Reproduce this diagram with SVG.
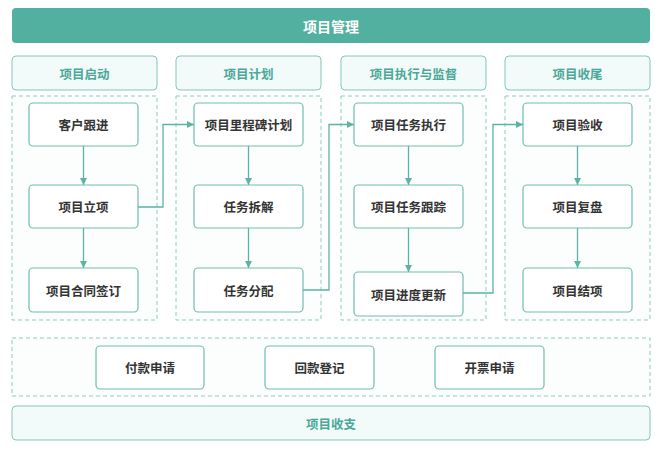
<svg xmlns="http://www.w3.org/2000/svg" width="660" height="453" viewBox="0 0 660 453">
<style>
text{font-family:"Noto Sans CJK SC","Noto Sans",sans-serif;font-weight:bold;text-anchor:middle;dominant-baseline:central}
.node rect{fill:#fff;stroke:#6fbdb0;stroke-width:1.2}
.node text{fill:#333;font-size:12.5px}
.hdr rect{fill:#f2fafa;stroke:#82c7bb;stroke-width:1}
.hdr text{fill:#4ba898;font-size:12.5px}
.box{fill:#fcfefe;stroke:#8ccbc0;stroke-width:1;stroke-dasharray:4 3}
.conn{fill:none;stroke:#5cb3a4;stroke-width:1.3}
</style>
<defs>
<marker id="arr" viewBox="0 0 10 10" refX="10" refY="5" markerWidth="7" markerHeight="7" markerUnits="userSpaceOnUse" orient="auto">
<path d="M0,0L10,5L0,10z" fill="#5cb3a4"/>
</marker>
</defs>
<rect width="660" height="453" fill="#fff"/>
<g id="banner">
<rect x="12" y="8" width="638" height="35" rx="4" fill="#52b0a0"/>
<text x="331" y="26" fill="#fff" font-size="14">项目管理</text>
</g>
<g id="phase1" class="hdr"><rect x="12" y="56" width="145" height="34" rx="4"/><text x="84.5" y="73">项目启动</text></g>
<g id="phase2" class="hdr"><rect x="176" y="56" width="145" height="34" rx="4"/><text x="248.5" y="73">项目计划</text></g>
<g id="phase3" class="hdr"><rect x="341" y="56" width="145" height="34" rx="4"/><text x="413.5" y="73">项目执行与监督</text></g>
<g id="phase4" class="hdr"><rect x="505" y="56" width="145" height="34" rx="4"/><text x="577.5" y="73">项目收尾</text></g>
<g id="containers">
<rect class="box" x="12" y="96" width="145" height="224"/>
<rect class="box" x="176" y="96" width="145" height="224"/>
<rect class="box" x="341" y="96" width="145" height="224"/>
<rect class="box" x="505" y="96" width="145" height="224"/>
<rect class="box" x="12" y="338" width="638" height="58"/>
</g>
<g id="n1" class="node"><rect x="29" y="103" width="109" height="43" rx="4"/><text x="83.5" y="124.5">客户跟进</text></g>
<g id="n2" class="node"><rect x="29" y="185" width="109" height="43" rx="4"/><text x="83.5" y="206.5">项目立项</text></g>
<g id="n3" class="node"><rect x="29" y="268" width="109" height="44" rx="4"/><text x="83.5" y="290">项目合同签订</text></g>
<g id="n4" class="node"><rect x="194" y="103" width="109" height="43" rx="4"/><text x="248.5" y="124.5">项目里程碑计划</text></g>
<g id="n5" class="node"><rect x="194" y="185" width="109" height="43" rx="4"/><text x="248.5" y="206.5">任务拆解</text></g>
<g id="n6" class="node"><rect x="194" y="268" width="109" height="44" rx="4"/><text x="248.5" y="290">任务分配</text></g>
<g id="n7" class="node"><rect x="354" y="103" width="109" height="43" rx="4"/><text x="408.5" y="124.5">项目任务执行</text></g>
<g id="n8" class="node"><rect x="354" y="185" width="109" height="43" rx="4"/><text x="408.5" y="206.5">项目任务跟踪</text></g>
<g id="n9" class="node"><rect x="354" y="272" width="109" height="44" rx="4"/><text x="408.5" y="294">项目进度更新</text></g>
<g id="n10" class="node"><rect x="523" y="103" width="109" height="43" rx="4"/><text x="577.5" y="124.5">项目验收</text></g>
<g id="n11" class="node"><rect x="523" y="185" width="109" height="43" rx="4"/><text x="577.5" y="206.5">项目复盘</text></g>
<g id="n12" class="node"><rect x="523" y="268" width="109" height="44" rx="4"/><text x="577.5" y="290">项目结项</text></g>
<g id="n13" class="node"><rect x="96" y="346" width="108" height="43" rx="4"/><text x="150" y="367.5">付款申请</text></g>
<g id="n14" class="node"><rect x="265" y="346" width="109" height="43" rx="4"/><text x="319.5" y="367.5">回款登记</text></g>
<g id="n15" class="node"><rect x="435" y="346" width="109" height="43" rx="4"/><text x="489.5" y="367.5">开票申请</text></g>
<g id="footer" class="hdr"><rect x="12" y="406" width="638" height="34" rx="4"/><text x="331" y="423">项目收支</text></g>
<g id="connectors">
<path class="conn" d="M83.5,146V185" marker-end="url(#arr)"/>
<path class="conn" d="M83.5,228V268" marker-end="url(#arr)"/>
<path class="conn" d="M248.5,146V185" marker-end="url(#arr)"/>
<path class="conn" d="M248.5,228V268" marker-end="url(#arr)"/>
<path class="conn" d="M408.5,146V185" marker-end="url(#arr)"/>
<path class="conn" d="M408.5,228V272" marker-end="url(#arr)"/>
<path class="conn" d="M577.5,146V185" marker-end="url(#arr)"/>
<path class="conn" d="M577.5,228V268" marker-end="url(#arr)"/>
<path class="conn" d="M138,207H163V124.5H194" marker-end="url(#arr)"/>
<path class="conn" d="M303,290H329V124.5H354" marker-end="url(#arr)"/>
<path class="conn" d="M463,293H493V124.5H523" marker-end="url(#arr)"/>
</g>
</svg>
